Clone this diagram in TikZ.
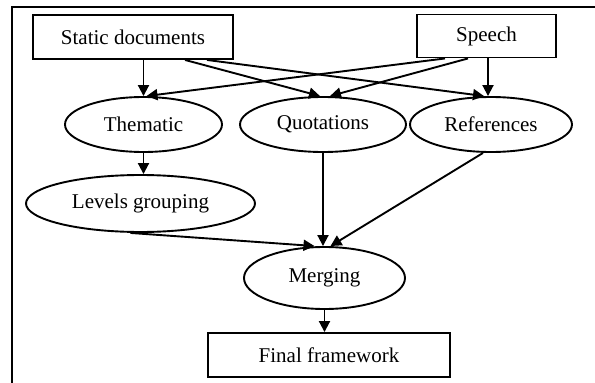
\documentclass[tikz,border=0pt]{standalone}
\usepackage{fontspec}
\setmainfont{Liberation Serif}
\usetikzlibrary{positioning,shapes.geometric,arrows.meta}

\begin{document}
\begin{tikzpicture}[%
    x=1pt,
    y=-1pt,
    ->,
    >={Triangle[length=11pt,width=11pt]},
    line width=1.9pt,
    font=\fontsize{21}{25}\selectfont,
    source/.style={%
      rectangle,
      minimum width=200pt,
      minimum height=44pt,
      draw
    },
    topic/.style={%
      ellipse,
      inner sep=0pt,
      minimum height=55pt,
      draw
    }
  ]
    \useasboundingbox (0,0) rectangle (595,383);
    \draw[-] (12,383) -- (12,7) -- (595,7);

    \node[source] (static) at (133,37)                                  {Static documents};
    \node[source, minimum width=139pt, minimum height=43pt] (speech) at (486.5,36) {Speech};
    \node[topic, minimum width=157pt] (thematic) at (143.5,124.5)        {Thematic};
    \node[topic, minimum width=166pt] (quot) at (323,124.5)              {Quotations};
    \node[topic, minimum width=162pt] (refs) at (491,124.5)              {References};
    \node[topic, minimum width=229pt, minimum height=57pt] (levels) at (140.5,203.5) {Levels grouping};
    \node[topic, minimum width=161pt, minimum height=62pt] (merging) at (324.5,278)  {Merging};
    \node[source, minimum width=242pt] (final) at (329,355)             {Final framework};

    \path (static.south -| thematic.north)   edge (thematic.north)
          ([xshift=52pt]static.south)        edge ([xshift=-3pt]quot.north)
          ([xshift=74pt]static.south)        edge ([xshift=-7pt]refs.north)
          ([xshift=-41.5pt]speech.south)     edge ([xshift=3pt]thematic.north)
          ([xshift=-18.5pt]speech.south)     edge ([xshift=7pt]quot.north)
          ([xshift=1.5pt]speech.south)       edge ([xshift=-3pt]refs.north)
          (thematic.south)                   edge (thematic.south |- levels.north)
          ([xshift=-10pt]levels.south)       edge ([xshift=-10pt]merging.north)
          (quot.south)                       edge (quot.south |- merging.north)
          ([xshift=-8pt]refs.south)          edge ([xshift=6pt]merging.north)
          (merging.south)                    edge (merging.south |- final.north)
          ;
  \end{tikzpicture}
\end{document}
